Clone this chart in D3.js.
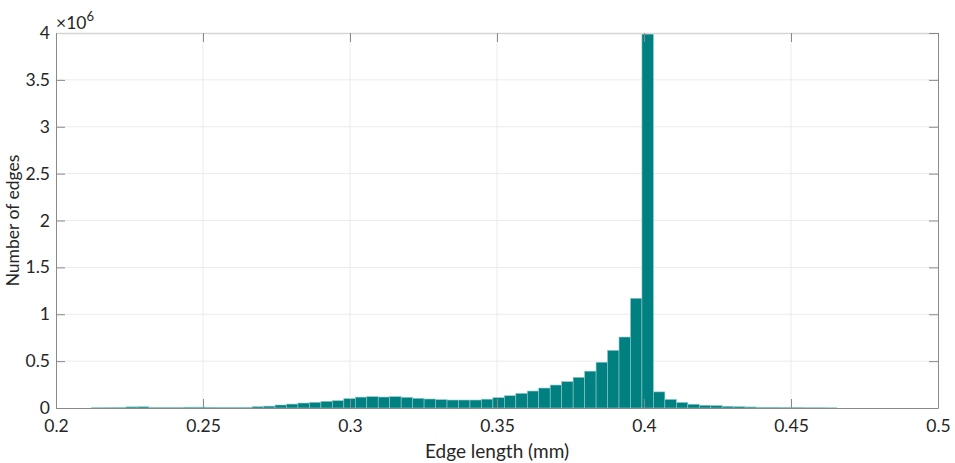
<!DOCTYPE html>
<html><head><meta charset="utf-8">
<script src="https://cdn.jsdelivr.net/npm/d3@7"></script>
<style>body{margin:0;background:#fff}svg{display:block}text{font-family:Lato,"Open Sans",sans-serif;fill:#262626}</style>
</head><body><svg id="c" width="955" height="463"></svg>
<script>
const binStart = 0.2121;
const binWidth = 0.00390;
const counts = [0.003,0.004,0.006,0.012,0.013,0.006,0.005,0.006,0.009,0.009,0.008,0.007,
  0.007,0.008,0.014,0.020,0.032,0.042,0.053,0.060,0.071,0.078,0.100,0.116,
  0.121,0.117,0.121,0.114,0.103,0.096,0.089,0.085,0.085,0.085,0.094,0.110,
  0.131,0.156,0.181,0.213,0.245,0.281,0.327,0.393,0.488,0.615,0.757,1.17,3.99,
  0.172,0.091,0.059,0.040,0.029,0.025,0.018,0.014,0.011,0.008,0.008,0.005,0.005,0.003,0.003,0.002];
const xTicks = [0.2,0.25,0.3,0.35,0.4,0.45,0.5];
const xTickLabels = ["0.2","0.25","0.3","0.35","0.4","0.45","0.5"];
const yTicks = [0,0.5,1,1.5,2,2.5,3,3.5,4];
const yTickLabels = ["0","0.5","1","1.5","2","2.5","3","3.5","4"];

const L=56,R=938,T=33,B=408;
const svg=d3.select("#c");
const x=d3.scaleLinear().domain([0.2,0.5]).range([L,R]);
const y=d3.scaleLinear().domain([0,4]).range([B,T]);
const g=svg.append("g");
// grid
g.selectAll(".gx").data(xTicks.slice(1,-1)).enter().append("line")
 .attr("x1",d=>x(d)).attr("x2",d=>x(d)).attr("y1",T).attr("y2",B).attr("stroke","#ebebeb");
g.selectAll(".gy").data(yTicks.slice(1,-1)).enter().append("line")
 .attr("x1",L).attr("x2",R).attr("y1",d=>y(d)).attr("y2",d=>y(d)).attr("stroke","#ebebeb");
// bars
const bins=counts.map((c,i)=>({x0:binStart+i*binWidth,x1:binStart+(i+1)*binWidth,v:c}));
g.selectAll(".bar").data(bins).enter().append("rect")
 .attr("x",d=>x(d.x0)).attr("width",d=>x(d.x1)-x(d.x0))
 .attr("y",d=>y(d.v)).attr("height",d=>y(0)-y(d.v))
 .attr("fill","#008080").attr("stroke","#8ccaca").attr("stroke-width",0.6);
// axes
const ax=d3.axisBottom(x).tickValues(xTicks).tickFormat((d,i)=>xTickLabels[i]).tickSizeInner(-9).tickSizeOuter(0).tickPadding(12);
const axg=svg.append("g").attr("transform",`translate(0,${B})`).call(ax);
const ay=d3.axisLeft(y).tickValues(yTicks).tickFormat((d,i)=>yTickLabels[i]).tickSizeInner(-9).tickSizeOuter(0).tickPadding(6);
const ayg=svg.append("g").attr("transform",`translate(${L},0)`).call(ay);
const axT=d3.axisTop(x).tickValues(xTicks).tickFormat("").tickSizeInner(-9).tickSizeOuter(0);
const axTg=svg.append("g").attr("transform",`translate(0,${T})`).call(axT);
const ayR=d3.axisRight(y).tickValues(yTicks).tickFormat("").tickSizeInner(-9).tickSizeOuter(0);
const ayRg=svg.append("g").attr("transform",`translate(${R},0)`).call(ayR);
[axg,ayg,axTg,ayRg].forEach(s=>{s.selectAll("path").attr("stroke","#8a8a8a");s.selectAll("line").attr("stroke","#8a8a8a");
 s.selectAll("text").style("font-size","17.5px").attr("fill","#262626");});
axTg.select("path").attr("stroke","#d6d6d6").attr("stroke-width",1.5);
// labels
svg.append("text").attr("x",(L+R)/2).attr("y",458).attr("text-anchor","middle").style("font-size","19px").text("Edge length (mm)");
svg.append("text").attr("transform",`translate(19,${(T+B)/2}) rotate(-90)`).attr("text-anchor","middle").style("font-size","17.5px").text("Number of edges");
const ex=svg.append("text").attr("x",56).attr("y",29).style("font-size","17.5px");
ex.append("tspan").text("×10");
ex.append("tspan").attr("dy",-8).style("font-size","13px").text("6");
</script></body></html>
